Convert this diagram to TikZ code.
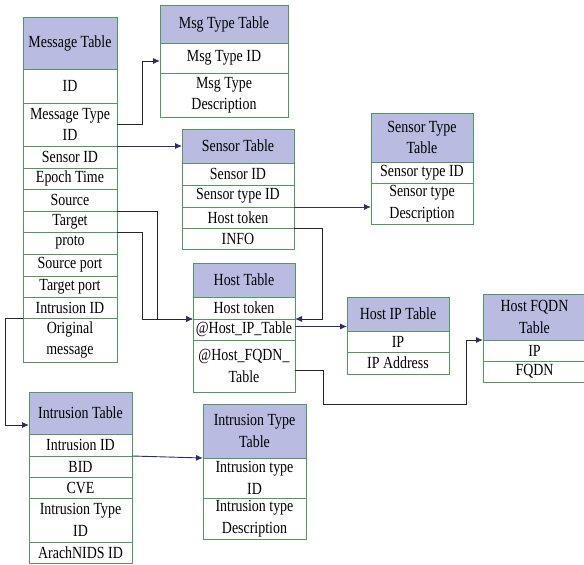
\documentclass[tikz,border=0pt]{standalone}
\usepackage{fontspec}
\setmainfont{Liberation Serif}[FakeStretch=0.82]
\usepackage{tikz}
\usetikzlibrary{arrows.meta}
\usetikzlibrary{calc}
\usetikzlibrary{positioning}

\definecolor{tblgreen}{RGB}{84,150,96}
\definecolor{hdrblue}{RGB}{185,187,224}
\definecolor{linknavy}{RGB}{45,45,105}

\tikzset{
  cell/.style={draw=tblgreen,line width=0.9pt,rectangle,inner sep=0pt,outer sep=0pt,
    align=center,font=\fontsize{17}{21.5}\selectfont,minimum width=#1},
  head/.style={cell=#1,fill=hdrblue},
  fld/.style={cell=#1,fill=white},
  link/.style={draw=black!85,line width=0.9pt,-{Latex[length=7pt,width=6pt,color=linknavy]}},
  navylink/.style={draw=linknavy,line width=0.9pt,-{Latex[length=7pt,width=6pt]}},
}

\begin{document}
\begin{tikzpicture}[x=1pt,y=-1pt]
  \useasboundingbox (0,0) rectangle (584,565);

  \node [head=94pt,minimum height=52pt,anchor=north west] (M_head) at (23,17) {Message Table};
  \node [fld=94pt,minimum height=34pt,below=0pt of M_head] (M_id) {ID};
  \node [fld=94pt,minimum height=43pt,below=0pt of M_id] (M_type) {Message Type\\ID};
  \node [fld=94pt,minimum height=22pt,below=0pt of M_type] (M_sensor) {Sensor ID};
  \node [fld=94pt,minimum height=21pt,below=0pt of M_sensor] (M_epoch) {Epoch Time};
  \node [fld=94pt,minimum height=22pt,below=0pt of M_epoch] (M_src) {Source};
  \node [fld=94pt,minimum height=21pt,below=0pt of M_src] (M_tgt) {Target};
  \node [fld=94pt,minimum height=22pt,below=0pt of M_tgt] (M_proto) {proto};
  \node [fld=94pt,minimum height=22pt,below=0pt of M_proto] (M_sport) {Source port};
  \node [fld=94pt,minimum height=21pt,below=0pt of M_sport] (M_tport) {Target port};
  \node [fld=94pt,minimum height=21pt,below=0pt of M_tport] (M_intr) {Intrusion ID};
  \node [fld=94pt,minimum height=44pt,below=0pt of M_intr] (M_orig) {Original\\message};

  \node [head=128pt,minimum height=38pt,anchor=north west] (T_head) at (160,5) {Msg Type Table};
  \node [fld=128pt,minimum height=30pt,below=0pt of T_head] (T_id) {Msg Type ID};
  \node [fld=128pt,minimum height=44pt,below=0pt of T_id] (T_desc) {Msg Type\\Description};

  \node [head=112pt,minimum height=34pt,anchor=north west] (S_head) at (182,129) {Sensor Table};
  \node [fld=112pt,minimum height=22pt,below=0pt of S_head] (S_id) {Sensor ID};
  \node [fld=112pt,minimum height=22pt,below=0pt of S_id] (S_stid) {Sensor type ID};
  \node [fld=112pt,minimum height=21pt,below=0pt of S_stid] (S_tok) {Host token};
  \node [fld=112pt,minimum height=21pt,below=0pt of S_tok] (S_info) {INFO};

  \node [head=102pt,minimum height=49pt,anchor=north west] (ST_head) at (371,113) {Sensor Type\\Table};
  \node [fld=102pt,minimum height=21pt,below=0pt of ST_head] (ST_id) {Sensor type ID};
  \node [fld=102pt,minimum height=41pt,below=0pt of ST_id] (ST_desc) {Sensor type\\Description};

  \node [head=102pt,minimum height=34pt,anchor=north west] (H_head) at (193,263) {Host Table};
  \node [fld=102pt,minimum height=22pt,below=0pt of H_head] (H_tok) {Host token};
  \node [fld=102pt,minimum height=21pt,below=0pt of H_tok] (H_ip) {@Host\_IP\_Table};
  \node [fld=102pt,minimum height=52pt,below=0pt of H_ip] (H_fqdn) {@Host\_FQDN\_\\Table};

  \node [head=102pt,minimum height=34pt,anchor=north west] (HI_head) at (347,297) {Host IP Table};
  \node [fld=102pt,minimum height=21pt,below=0pt of HI_head] (HI_ip) {IP};
  \node [fld=102pt,minimum height=22pt,below=0pt of HI_ip] (HI_addr) {IP Address};

  \node [head=103pt,minimum height=46pt,anchor=north west] (F_head) at (483,294) {Host FQDN\\Table};
  \node [fld=103pt,minimum height=21pt,below=0pt of F_head] (F_ip) {IP};
  \node [fld=103pt,minimum height=21pt,below=0pt of F_ip] (F_fqdn) {FQDN};

  \node [head=103pt,minimum height=42pt,anchor=north west] (I_head) at (29,392) {Intrusion Table};
  \node [fld=103pt,minimum height=22pt,below=0pt of I_head] (I_iid) {Intrusion ID};
  \node [fld=103pt,minimum height=21pt,below=0pt of I_iid] (I_bid) {BID};
  \node [fld=103pt,minimum height=21pt,below=0pt of I_bid] (I_cve) {CVE};
  \node [fld=103pt,minimum height=44pt,below=0pt of I_cve] (I_type) {Intrusion Type\\ID};
  \node [fld=103pt,minimum height=21pt,below=0pt of I_type] (I_arach) {ArachNIDS ID};

  \node [head=103pt,minimum height=54pt,anchor=north west] (IT_head) at (203,404) {Intrusion Type\\Table};
  \node [fld=103pt,minimum height=40pt,below=0pt of IT_head] (IT_id) {Intrusion type\\ID};
  \node [fld=103pt,minimum height=41pt,below=0pt of IT_id] (IT_desc) {Intrusion type\\Description};

  \coordinate (F_bend) at ($(F_ip.north west)+(-17,64)$);

  \path [link] (M_type.east) -- ++(25,0) |- ([yshift=-3pt]T_id.west);
  \path [navylink] (M_sensor.north east) -- (S_head.west);
  \path [link] (M_src.south east) -- ++(40,0) |- (H_tok.south west);
  \path [link] (M_tgt.south east) -- ++(25,0) |- (H_tok.south west);
  \path [navylink] (S_stid.south east) -- (S_stid.south east -| ST_desc.west);
  \path [link] (S_tok.south east) -- ++(28,0) |- (H_tok.south east);
  \path [navylink] ([yshift=3pt]H_ip.east) -- ([yshift=3pt]H_ip.east -| HI_head.west);
  \path [link] ([yshift=-4pt]H_fqdn.east) -- ++(28,0) |- (F_bend) |- (F_ip.north west);
  \path [link] (M_intr.south west) -- ++(-18,0) |- ([yshift=-12pt]I_head.west);
  \path [navylink] (I_iid.south east) -- (IT_id.north west);

\end{tikzpicture}
\end{document}
